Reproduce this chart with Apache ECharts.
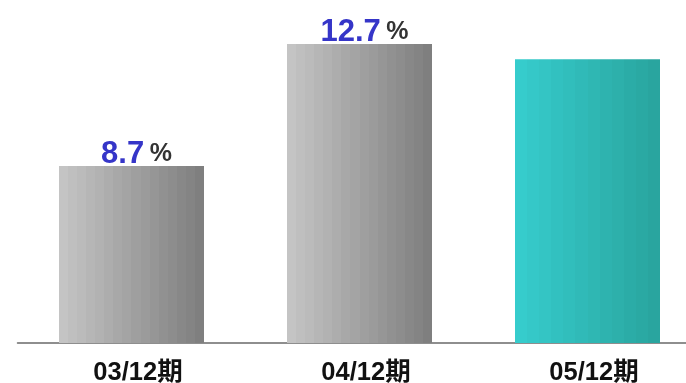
<!DOCTYPE html>
<html>
<head>
<meta charset="utf-8">
<script src="https://cdn.jsdelivr.net/npm/echarts@6/dist/echarts.min.js"></script>
<style>
  html, body { margin: 0; padding: 0; background: #fff; }
  #chart { width: 686px; height: 383px; }
</style>
</head>
<body>
<div id="chart"></div>
<script>
const categories = ['03/12期', '04/12期', '05/12期'];
const values = [8.7, 12.7, 12.2];
const showLabel = [true, true, false];

const FONT = "'Liberation Sans', Arial, 'Noto Sans CJK SC', sans-serif";

// banded horizontal gradient, like the original's stepped fill
function bands(from, to, n) {
  const a = echarts.color.parse(from), b = echarts.color.parse(to);
  const stops = [];
  for (let i = 0; i < n; i++) {
    const t = i / (n - 1);
    const c = 'rgb(' + [0, 1, 2].map(k => Math.round(a[k] + (b[k] - a[k]) * t)).join(',') + ')';
    stops.push({ offset: i / n, color: c }, { offset: (i + 1) / n, color: c });
  }
  return new echarts.graphic.LinearGradient(0, 0, 1, 0, stops);
}

const gray = bands('#c4c4c4', '#7f7f7f', 16);
const teal = bands('#36cccc', '#29a59f', 12);

const chart = echarts.init(document.getElementById('chart'));
chart.setOption({
  animation: false,
  grid: { left: 17.5, width: 684, top: 19.7, bottom: 40, outerBoundsMode: 'none', containLabel: false },
  xAxis: {
    type: 'category',
    data: categories,
    axisTick: { show: false },
    axisLine: { lineStyle: { color: '#6a6a6a', width: 1.5 } },
    axisLabel: {
      margin: 17,
      fontSize: 25.5,
      fontWeight: 'bold',
      color: '#111',
      padding: [0, 0, 0, 13],
      fontFamily: FONT
    }
  },
  yAxis: {
    type: 'value',
    min: 2.9,
    max: 13.5,
    show: false,
    splitLine: { show: false }
  },
  series: [{
    type: 'bar',
    barWidth: 145,
    data: values.map((v, i) => ({
      value: v,
      itemStyle: { color: i === 2 ? teal : gray },
      label: { show: showLabel[i] }
    })),
    label: {
      position: 'top',
      distance: -4,
      offset: [5, 0],
      formatter: p => '{n|' + p.value + '}{s| }{p|%}',
      rich: {
        n: { fontSize: 31, fontWeight: 'bold', color: '#3535c8', fontFamily: FONT },
        s: { fontSize: 20, fontFamily: FONT },
        p: { fontSize: 25, fontWeight: 'bold', color: '#333', fontFamily: FONT }
      }
    }
  }]
});
</script>
</body>
</html>
